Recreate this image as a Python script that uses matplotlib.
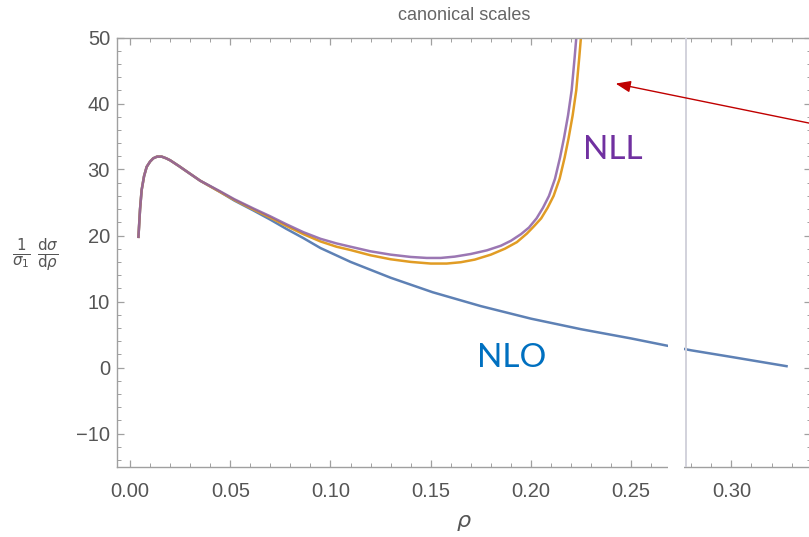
import matplotlib
matplotlib.use("Agg")
import matplotlib.pyplot as plt
from matplotlib.patches import Rectangle
from matplotlib.ticker import MultipleLocator

# --- data -------------------------------------------------------------
rho_nlo = [0.0042, 0.0050, 0.0058, 0.0070, 0.0083, 0.0100, 0.0116, 0.0135,
           0.0158, 0.0180, 0.0200, 0.0245, 0.0283, 0.0350, 0.0449, 0.0520,
           0.0615, 0.0700, 0.0780, 0.0865, 0.0950, 0.1100, 0.1300, 0.1510,
           0.1750, 0.2000, 0.2250, 0.2500, 0.2680, 0.2800, 0.3000, 0.3275]
sig_nlo = [19.8, 24.0, 26.9, 29.0, 30.4, 31.2, 31.7, 31.95,
           31.95, 31.7, 31.4, 30.5, 29.7, 28.3, 26.6, 25.3,
           23.8, 22.4, 21.0, 19.6, 18.1, 16.0, 13.6, 11.4,
           9.3, 7.4, 5.8, 4.4, 3.3, 2.6, 1.6, 0.2]

# NLL (orange)
rho_nll_a = [0.0042, 0.0050, 0.0058, 0.0070, 0.0083, 0.0100, 0.0116, 0.0135,
             0.0158, 0.0180, 0.0200, 0.0245, 0.0283, 0.0350, 0.0449, 0.0520,
             0.0615, 0.0700, 0.0780, 0.0865, 0.0950, 0.1030, 0.1100, 0.1200,
             0.1300, 0.1400, 0.1500, 0.1580, 0.1650, 0.1720, 0.1800, 0.1870,
             0.1930, 0.1980, 0.2015, 0.2051, 0.2083, 0.2113, 0.2143, 0.2168,
             0.2188, 0.2208, 0.2226, 0.2241, 0.2251]
sig_nll_a = [19.8, 24.0, 26.9, 29.0, 30.4, 31.2, 31.7, 31.95,
             31.95, 31.7, 31.4, 30.5, 29.7, 28.3, 26.6, 25.4,
             23.95, 22.7, 21.45, 20.2, 19.1, 18.3, 17.8, 17.0,
             16.4, 16.0, 15.75, 15.75, 15.95, 16.35, 17.1, 18.0,
             19.0, 20.3, 21.4, 22.6, 24.2, 26.0, 28.6, 31.8,
             34.8, 38.2, 42.0, 47.0, 50.6]

# NLL (purple)
rho_nll_b = [0.0042, 0.0050, 0.0058, 0.0070, 0.0083, 0.0100, 0.0116, 0.0135,
             0.0158, 0.0180, 0.0200, 0.0245, 0.0283, 0.0350, 0.0449, 0.0520,
             0.0615, 0.0700, 0.0780, 0.0865, 0.0950, 0.1030, 0.1100, 0.1200,
             0.1300, 0.1400, 0.1480, 0.1550, 0.1620, 0.1700, 0.1780, 0.1850,
             0.1900, 0.1950, 0.1990, 0.2028, 0.2060, 0.2090, 0.2120, 0.2145,
             0.2165, 0.2185, 0.2203, 0.2218, 0.2228]
sig_nll_b = [19.8, 24.0, 26.9, 29.0, 30.4, 31.2, 31.7, 31.95,
             31.95, 31.7, 31.4, 30.5, 29.7, 28.3, 26.7, 25.5,
             24.1, 22.9, 21.7, 20.5, 19.5, 18.8, 18.3, 17.6,
             17.1, 16.75, 16.6, 16.6, 16.8, 17.2, 17.75, 18.45,
             19.2, 20.2, 21.2, 22.6, 24.2, 26.0, 28.6, 31.8,
             34.8, 38.2, 42.0, 47.0, 50.6]

x_ticks = [0.00, 0.05, 0.10, 0.15, 0.20, 0.25, 0.30]
y_ticks = [-10, 0, 10, 20, 30, 40, 50]

# --- figure -----------------------------------------------------------
W, H = 809, 537
fig = plt.figure(figsize=(W / 100, H / 100), dpi=100)
ax = fig.add_axes([117 / W, 1 - 466.5 / H, (811 - 117) / W, (466.5 - 37.5) / H])

c_blue = "#5e81b5"
c_orange = "#e19c24"
c_purple = "#8a5fa6"

ax.plot(rho_nlo, sig_nlo, color=c_blue, lw=1.8, zorder=2,
        solid_joinstyle="round")
ax.plot(rho_nll_a, sig_nll_a, color=c_orange, lw=1.8, zorder=2.1,
        solid_joinstyle="round")
ax.plot(rho_nll_b, sig_nll_b, color=c_purple, lw=1.8, alpha=0.85, zorder=2.2,
        solid_joinstyle="round")

ax.set_xlim(-0.0065, 0.3397)
ax.set_ylim(-15, 50)

gray = "#a0a0a0"
for s in ax.spines.values():
    s.set_color(gray)
    s.set_linewidth(1.0)

ax.set_xticks(x_ticks)
ax.set_yticks(y_ticks)
ax.set_xticklabels([f"{v:.2f}" for v in x_ticks])
ax.set_yticklabels([("\u2212" + str(-v)) if v < 0 else str(v) for v in y_ticks])
ax.xaxis.set_minor_locator(MultipleLocator(0.01))
ax.yaxis.set_minor_locator(MultipleLocator(2))
ax.tick_params(which="both", direction="in", top=True, right=True, color=gray)
ax.tick_params(which="major", length=5, width=0.9, labelsize=14.5,
               labelcolor="#555555")
ax.tick_params(which="minor", length=3, width=0.7)
ax.tick_params(axis="x", pad=11)
ax.tick_params(axis="y", pad=5)
for lab in ax.get_xticklabels() + ax.get_yticklabels():
    lab.set_family("Liberation Sans")

ax.set_xlabel(r"$\rho$", fontsize=16, color="#555555", labelpad=9)

fig.text(464 / W, 1 - 15 / H, "canonical scales", ha="center", va="center",
         fontsize=13, color="#666666", family="Liberation Sans")
fig.text(35.5 / W, 1 - 255 / H,
         r"$\frac{1}{\sigma_1}\;\frac{\mathrm{d}\sigma}{\mathrm{d}\rho}$",
         ha="center", va="center", fontsize=15.5, color="#555555")

# separator line and blank strip
ax.add_patch(Rectangle((0.2683, -16.0), 0.0082, 60.0, facecolor="white",
                       edgecolor="none", zorder=3, clip_on=False))
ax.axvline(0.2773, color="#d2d2dc", lw=1.4, zorder=3.1)

# curve labels
ax.text(0.2409, 32.95, "NLL", color="#7030a0", fontsize=24, family="Lato",
        ha="center", va="center")
ax.text(0.1903, 1.5, "NLO", color="#0070c0", fontsize=24, family="Lato",
        ha="center", va="center")

# arrow
ax.annotate("", xy=(0.2409, 43.1), xytext=(0.3425, 36.8),
            arrowprops=dict(arrowstyle="-|>,head_length=0.9,head_width=0.35",
                            color="#c00000", lw=1.0),
            annotation_clip=False, zorder=4)

fig.savefig("out.png", dpi=100)
